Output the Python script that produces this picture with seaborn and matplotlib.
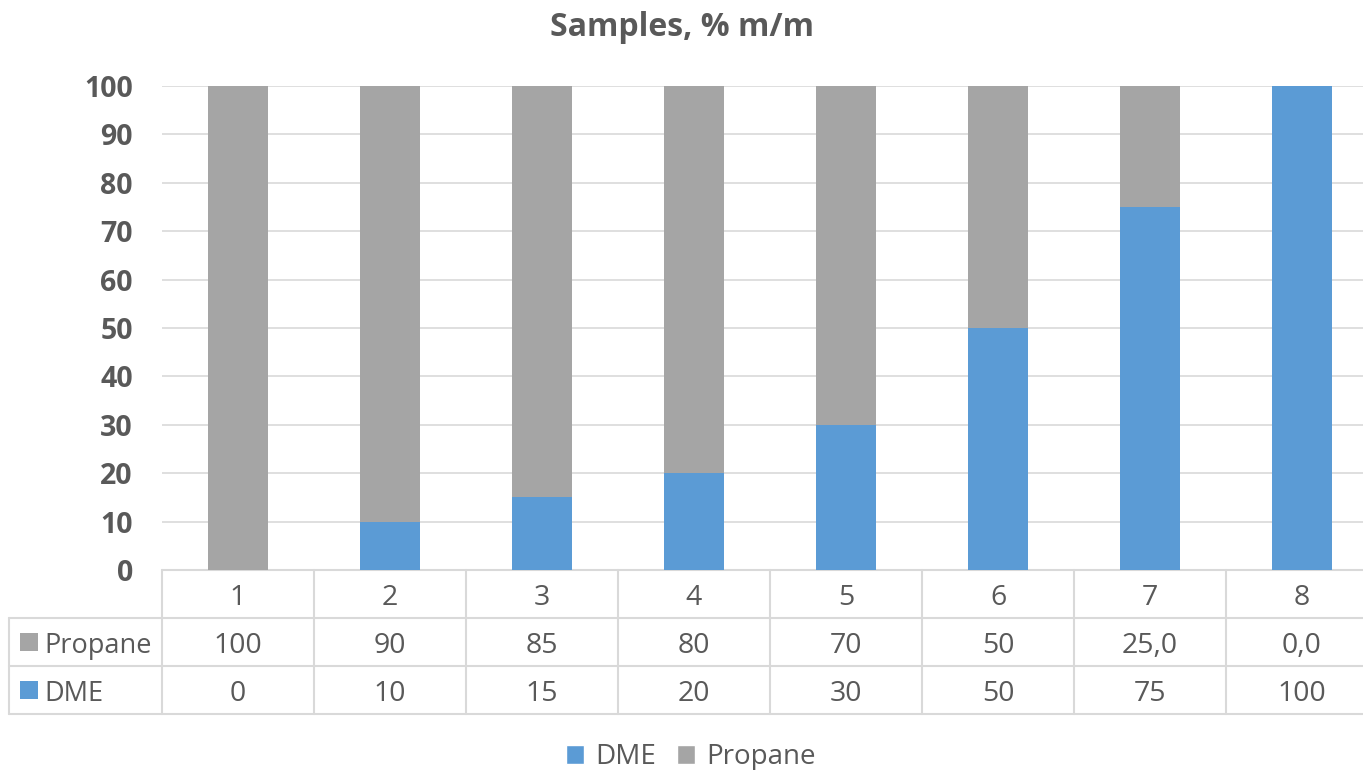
import numpy as np
import pandas as pd
import seaborn as sns
from matplotlib import pyplot as plt
from matplotlib import transforms
from matplotlib.patches import Patch, Rectangle

samples = ["1", "2", "3", "4", "5", "6", "7", "8"]
dme = [0, 10, 15, 20, 30, 50, 75, 100]
propane = [100, 90, 85, 80, 70, 50, 25, 0]
propane_labels = ["100", "90", "85", "80", "70", "50", "25,0", "0,0"]
dme_labels = ["0", "10", "15", "20", "30", "50", "75", "100"]
y_ticks = [0, 10, 20, 30, 40, 50, 60, 70, 80, 90, 100]

BLUE = "#5b9bd5"
GRAY = "#a5a5a5"
GRID = "#d9d9d9"
TEXT = "#595959"

sns.set_theme(style="white")
plt.rcParams["font.family"] = ["Open Sans", "DejaVu Sans"]

table = pd.DataFrame({"Sample": samples, "DME": dme, "Propane": propane})
table["Total"] = table["DME"] + table["Propane"]

fig = plt.figure(figsize=(13.63, 7.7), dpi=100)
W, H = 1363, 770
col_px = 152  # one category column in pixels (the chart is cropped on the right)
ax = fig.add_axes([162 / W, (H - 570) / H, 8 * col_px / W, 484 / H])

# stacked bars: total first (propane on top), then DME over it
sns.barplot(data=table, x="Sample", y="Total", color=GRAY, width=0.4,
            saturation=1, ax=ax, zorder=3, linewidth=0)
sns.barplot(data=table, x="Sample", y="DME", color=BLUE, width=0.4,
            saturation=1, ax=ax, zorder=4, linewidth=0)

ax.set_xlim(-0.5, len(samples) - 0.5)
ax.set_ylim(0, 100)
ax.set_yticks(y_ticks)
ax.set_yticklabels([str(v) for v in y_ticks], fontsize=20.5, fontweight="bold", color=TEXT)
ax.tick_params(axis="y", length=0, pad=21)
ax.tick_params(axis="x", length=0, labelbottom=False)
ax.set_xlabel("")
ax.set_ylabel("")
for y in y_ticks[1:]:
    ax.axhline(y, color=GRID, lw=1.2, zorder=1)
sns.despine(ax=ax, left=True, bottom=True, top=True, right=True)

fig.suptitle("Samples, % m/m", y=1 - 28 / H, va="center", fontsize=23,
             fontweight="bold", color=TEXT)

# data table under the plot
trans = transforms.blended_transform_factory(ax.transData, ax.transAxes)
row_h = 48 / 484
nudge = 4 / 484  # text sits a little low in each cell
n = len(samples)
left_x = -0.5 - 153 / col_px
line_kw = dict(color=GRID, lw=1.5, transform=trans, clip_on=False)

# horizontal lines
ax.plot([-0.5, n - 0.5], [0, 0], **line_kw)
for k in (1, 2, 3):
    ax.plot([left_x, n - 0.5], [-k * row_h, -k * row_h], **line_kw)
# vertical lines
for i in range(n + 1):
    ax.plot([i - 0.5, i - 0.5], [0, -3 * row_h], **line_kw)
ax.plot([left_x, left_x], [-row_h, -3 * row_h], **line_kw)

txt_kw = dict(transform=trans, ha="center", va="center", fontsize=20.5,
              color=TEXT, clip_on=False)
for i, s in enumerate(samples):
    ax.text(i, -0.5 * row_h - nudge, s, **txt_kw)
    ax.text(i, -1.5 * row_h - nudge, propane_labels[i], **txt_kw)
    ax.text(i, -2.5 * row_h - nudge, dme_labels[i], **txt_kw)

sq = 18 / col_px
for k, (name, col) in enumerate([("Propane", GRAY), ("DME", BLUE)]):
    yc = -(1.5 + k) * row_h
    ax.add_patch(Rectangle((left_x + 11 / col_px, yc - 9 / 484), sq, 18 / 484,
                           facecolor=col, edgecolor="none", transform=trans,
                           clip_on=False))
    ax.text(left_x + 35 / col_px, yc - nudge, name, transform=trans, ha="left",
            va="center", fontsize=19.5, color=TEXT, clip_on=False)

handles = [Patch(facecolor=BLUE, label="DME"), Patch(facecolor=GRAY, label="Propane")]
leg = fig.legend(handles=handles, loc="center", bbox_to_anchor=(0.507, 1 - 757 / H),
                 ncol=2, frameon=False, fontsize=20, handlelength=0.65,
                 handleheight=0.65, handletextpad=0.4, columnspacing=0.75)
for t in leg.get_texts():
    t.set_color(TEXT)

fig.savefig("out.png", dpi=100)
